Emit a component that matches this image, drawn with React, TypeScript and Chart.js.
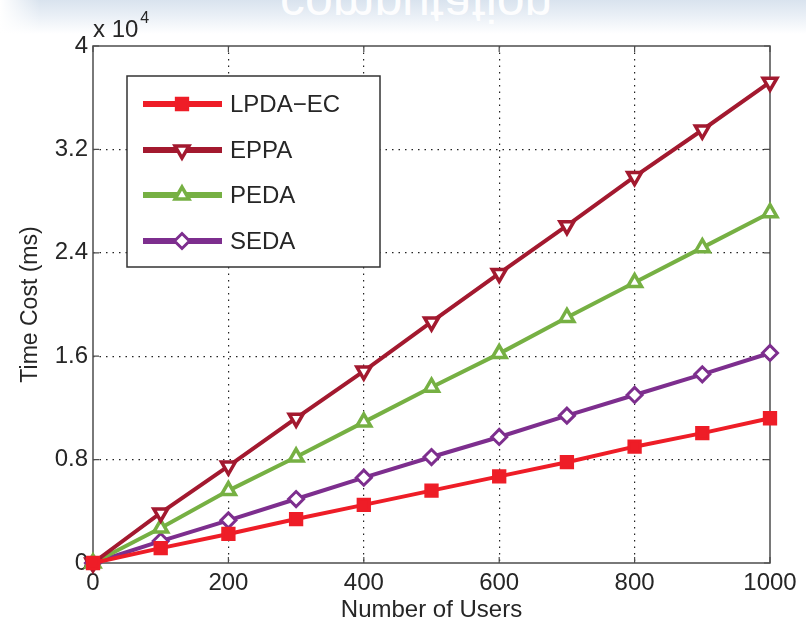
import React, { useEffect, useRef } from 'react';
import { Chart, registerables } from 'chart.js';
import { drawPoint } from 'chart.js/helpers';

Chart.register(...registerables);

// ---- data ----
const users = [0, 100, 200, 300, 400, 500, 600, 700, 800, 900, 1000];
const lpdaEc = [0, 1150, 2250, 3400, 4500, 5600, 6700, 7800, 9000, 10050, 11200];
const eppa = [0, 3870, 7500, 11200, 14850, 18650, 22400, 26100, 29900, 33500, 37200];
const peda = [0, 2700, 5600, 8200, 10900, 13600, 16200, 19000, 21700, 24400, 27100];
const seda = [0, 1700, 3300, 4950, 6600, 8200, 9750, 11400, 13000, 14600, 16250];
const seriesNames = ['LPDA\u2212EC', 'EPPA', 'PEDA', 'SEDA'];
const xTickStep = 200;
const yTickStep = 8000;
const yMax = 40000;
const xMax = 1000;
const xTitle = 'Number of Users';
const yTitle = 'Time Cost (ms)';
const exponentBase = 'x 10';
const exponentPower = '4';

const FONT = '"Liberation Sans", Arial, Helvetica, sans-serif';
const TEXT = '#262626';

const toPts = (ys: number[]) => users.map((x, i) => ({ x, y: ys[i] }));

const styles = [
  { color: '#EE1D27', pointStyle: 'rect', radius: 8, rotation: 0, fill: '#EE1D27', bw: 3 },
  { color: '#A3192F', pointStyle: 'triangle', radius: 8, rotation: 180, fill: '#ffffff', bw: 3.5 },
  { color: '#76B043', pointStyle: 'triangle', radius: 8, rotation: 0, fill: '#ffffff', bw: 3.5 },
  { color: '#7D2E8E', pointStyle: 'rectRot', radius: 7.5, rotation: 0, fill: '#ffffff', bw: 3 },
];

const frame = {
  id: 'frame',
  beforeDatasetsDraw(chart: any) {
    const { ctx, chartArea: a, scales } = chart;
    ctx.save();
    ctx.strokeStyle = '#4d4d4d';
    ctx.lineWidth = 1.5;
    ctx.strokeRect(a.left, a.top, a.right - a.left, a.bottom - a.top);
    ctx.lineWidth = 1.2;
    const tl = 6;
    ctx.beginPath();
    scales.x.ticks.forEach((t: any) => {
      const px = scales.x.getPixelForValue(t.value);
      ctx.moveTo(px, a.bottom); ctx.lineTo(px, a.bottom - tl);
      ctx.moveTo(px, a.top); ctx.lineTo(px, a.top + tl);
    });
    scales.y.ticks.forEach((t: any) => {
      const py = scales.y.getPixelForValue(t.value);
      ctx.moveTo(a.left, py); ctx.lineTo(a.left + tl, py);
      ctx.moveTo(a.right, py); ctx.lineTo(a.right - tl, py);
    });
    ctx.stroke();
    ctx.restore();
  },
  afterDraw(chart: any) {
    const { ctx, chartArea: a } = chart;
    ctx.save();
    // exponent label
    ctx.fillStyle = TEXT;
    ctx.textBaseline = 'alphabetic';
    ctx.textAlign = 'left';
    ctx.font = `24px ${FONT}`;
    ctx.fillText(exponentBase, a.left, 37);
    const w = ctx.measureText(exponentBase).width;
    ctx.font = `16px ${FONT}`;
    ctx.fillText(exponentPower, a.left + w + 2, 23);

    // legend
    const bx = 127, by = 76, bw = 253, bh = 191;
    ctx.fillStyle = '#ffffff';
    ctx.fillRect(bx, by, bw, bh);
    ctx.strokeStyle = '#333333';
    ctx.lineWidth = 1.5;
    ctx.strokeRect(bx, by, bw, bh);
    const rows = [104, 150, 195, 241];
    chart.data.datasets.forEach((ds: any, i: number) => {
      const y = rows[i];
      ctx.strokeStyle = ds.borderColor;
      ctx.lineWidth = 6;
      ctx.beginPath();
      ctx.moveTo(143, y);
      ctx.lineTo(222, y);
      ctx.stroke();
      ctx.fillStyle = ds.pointBackgroundColor;
      ctx.strokeStyle = ds.pointBorderColor;
      ctx.lineWidth = ds.pointBorderWidth;
      drawPoint(ctx, {
        pointStyle: ds.pointStyle,
        radius: ds.pointRadius,
        rotation: ds.pointRotation,
        borderWidth: ds.pointBorderWidth,
      } as any, 182, y);
      ctx.fillStyle = TEXT;
      ctx.font = `24px ${FONT}`;
      ctx.textBaseline = 'middle';
      ctx.textAlign = 'left';
      ctx.fillText(ds.label, 230, y + 1);
    });
    ctx.restore();
  },
};

export default function App() {
  const ref = useRef<HTMLCanvasElement>(null);
  useEffect(() => {
    const series = [lpdaEc, eppa, peda, seda];
    const chart = new Chart(ref.current!, {
      type: 'line',
      data: {
        datasets: series.map((ys, i) => ({
          label: seriesNames[i],
          data: toPts(ys),
          borderColor: styles[i].color,
          borderWidth: 4,
          pointStyle: styles[i].pointStyle as any,
          pointRadius: styles[i].radius,
          pointRotation: styles[i].rotation,
          pointBackgroundColor: styles[i].fill,
          pointBorderColor: styles[i].color,
          pointBorderWidth: styles[i].bw,
          tension: 0,
          clip: false as any,
        })),
      },
      options: {
        animation: false,
        responsive: false,
        layout: { padding: { left: 0, right: 36, top: 46, bottom: 0 } },
        plugins: { legend: { display: false }, tooltip: { enabled: false } },
        scales: {
          x: {
            type: 'linear',
            min: 0,
            max: xMax,
            afterFit: (s: any) => { s.height = 62; },
            ticks: {
              stepSize: xTickStep,
              color: TEXT,
              font: { family: FONT, size: 24 },
              padding: 6,
              maxRotation: 0,
              callback: (v: any) => String(v),
            },
            grid: {
              drawTicks: false,
              lineWidth: 1.2,
              color: (c: any) => (c.tick && (c.tick.value === 0 || c.tick.value === xMax) ? 'rgba(0,0,0,0)' : '#222222'),
            },
            border: { display: false, dash: [1.5, 5] },
            title: {
              display: true,
              text: xTitle,
              color: TEXT,
              font: { family: FONT, size: 24 },
              padding: { top: 0, bottom: 0 },
            },
          },
          y: {
            type: 'linear',
            min: 0,
            max: yMax,
            afterFit: (s: any) => { s.width = 93; },
            ticks: {
              stepSize: yTickStep,
              color: TEXT,
              font: { family: FONT, size: 24 },
              padding: 5,
              callback: (v: any) => (v === 0 ? '0' : String(+(v / 10000).toFixed(1))),
            },
            grid: {
              drawTicks: false,
              lineWidth: 1.2,
              color: (c: any) => (c.tick && (c.tick.value === 0 || c.tick.value === yMax) ? 'rgba(0,0,0,0)' : '#222222'),
            },
            border: { display: false, dash: [1.5, 5] },
            title: {
              display: true,
              text: yTitle,
              color: TEXT,
              font: { family: FONT, size: 23 },
              padding: { top: 17, bottom: 0 },
            },
          },
        },
      },
      plugins: [frame],
    });
    return () => chart.destroy();
  }, []);

  return (
    <div style={{ position: 'absolute', left: 0, top: 0, width: 806, height: 625, background: '#ffffff', overflow: 'hidden' }}>
      <div
        style={{
          position: 'absolute', left: 0, top: 0, width: 806, height: 34,
          background: 'linear-gradient(to bottom, #d9e3ee 0%, #e9eff6 45%, #ffffff 100%)',
        }}
      >
        <div
          style={{
            position: 'absolute', left: 0, top: 0, width: 40, height: 34,
            background: 'linear-gradient(to right, #ffffff, rgba(255,255,255,0))',
          }}
        />
        <span
          style={{
            position: 'absolute', left: 280, top: -20, fontFamily: FONT, fontSize: 50,
            color: 'rgba(255,255,255,0.95)', transform: 'scaleY(-1)', lineHeight: '50px',
            whiteSpace: 'nowrap',
          }}
        >
          computation
        </span>
      </div>
      <canvas ref={ref} width={806} height={625} style={{ position: 'absolute', left: 0, top: 0 }} />
    </div>
  );
}
